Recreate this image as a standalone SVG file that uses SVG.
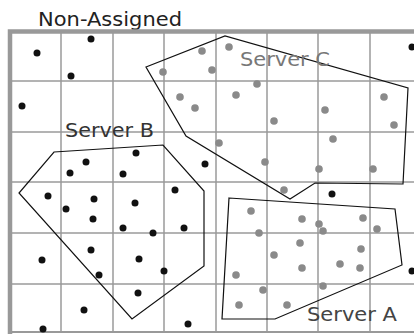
<svg xmlns="http://www.w3.org/2000/svg" width="414" height="334" viewBox="0 0 414 334">
<style>
.grid{stroke:#9a9a9a;stroke-width:1.5;fill:none}
.border{stroke:#999;fill:none}
.poly{fill:none;stroke:#111;stroke-width:1.2;stroke-linejoin:miter}
.b{fill:#111}
.g{fill:#8a8a8a}
.lbl{font-family:"DejaVu Sans","Liberation Sans",sans-serif;font-size:20px}
</style>
<rect width="414" height="334" fill="#fff"/>
<text class="lbl" x="38" y="26" font-size="19" fill="#222" textLength="144" lengthAdjust="spacingAndGlyphs">Non-Assigned</text>
<g id="grid">
<path class="grid" d="M61 32V333M113 32V333M164 32V333M216 32V333M267 32V333M318 32V333M370 32V333M10 81H414M10 132H414M10 182H414M10 233H414M10 284H414"/>
<path class="border" stroke-width="2" d="M10 332H414"/>
<path class="border" stroke-width="4.5" d="M10 334V31.5H414"/>
</g>
<g id="connectors">
<polygon id="serverC" class="poly" points="146,67 225,36 408,88 403,184 315,183 290,199 186,136"/>
<polygon id="serverB" class="poly" points="54,152 163,145 204,191 204,266 132,319 19,193"/>
<polygon id="serverA" class="poly" points="229,198 395,209 402,265 275,319 222,319"/>
</g>
<g id="nonassigned-dots">
<circle class="b" cx="37" cy="53" r="3.5"/>
<circle class="b" cx="91" cy="39" r="3.5"/>
<circle class="b" cx="71" cy="76" r="3.5"/>
<circle class="b" cx="22" cy="106" r="3.5"/>
<circle class="b" cx="205" cy="164" r="3.5"/>
<circle class="b" cx="412" cy="47" r="3.5"/>
<circle class="b" cx="332" cy="194" r="3.5"/>
<circle class="b" cx="412" cy="271" r="3.5"/>
<circle class="b" cx="42" cy="260" r="3.5"/>
<circle class="b" cx="84" cy="310" r="3.5"/>
<circle class="b" cx="43" cy="329" r="3.5"/>
<circle class="b" cx="188" cy="324" r="3.5"/>
</g>
<g id="serverB-node">
<text class="lbl" x="65" y="137" fill="#333" textLength="89" lengthAdjust="spacingAndGlyphs">Server B</text>
<circle class="b" cx="136" cy="153" r="3.5"/>
<circle class="b" cx="86" cy="162" r="3.5"/>
<circle class="b" cx="70" cy="173" r="3.5"/>
<circle class="b" cx="123" cy="174" r="3.5"/>
<circle class="b" cx="48" cy="196" r="3.5"/>
<circle class="b" cx="94" cy="199" r="3.5"/>
<circle class="b" cx="66" cy="209" r="3.5"/>
<circle class="b" cx="93" cy="219" r="3.5"/>
<circle class="b" cx="135" cy="203" r="3.5"/>
<circle class="b" cx="175" cy="190" r="3.5"/>
<circle class="b" cx="123" cy="228" r="3.5"/>
<circle class="b" cx="153" cy="233" r="3.5"/>
<circle class="b" cx="184" cy="228" r="3.5"/>
<circle class="b" cx="91" cy="250" r="3.5"/>
<circle class="b" cx="139" cy="259" r="3.5"/>
<circle class="b" cx="99" cy="275" r="3.5"/>
<circle class="b" cx="164" cy="271" r="3.5"/>
<circle class="b" cx="138" cy="293" r="3.5"/>
</g>
<g id="serverC-node">
<text class="lbl" x="240" y="66" fill="#777" textLength="90" lengthAdjust="spacingAndGlyphs">Server C</text>
<circle class="g" cx="229" cy="47" r="3.8"/>
<circle class="g" cx="202" cy="51" r="3.8"/>
<circle class="g" cx="212" cy="70" r="3.8"/>
<circle class="g" cx="163" cy="72" r="3.8"/>
<circle class="g" cx="257" cy="84" r="3.8"/>
<circle class="g" cx="236" cy="95" r="3.8"/>
<circle class="g" cx="180" cy="97" r="3.8"/>
<circle class="g" cx="195" cy="108" r="3.8"/>
<circle class="g" cx="274" cy="121" r="3.8"/>
<circle class="g" cx="325" cy="110" r="3.8"/>
<circle class="g" cx="384" cy="97" r="3.8"/>
<circle class="g" cx="394" cy="125" r="3.8"/>
<circle class="g" cx="333" cy="139" r="3.8"/>
<circle class="g" cx="219" cy="143" r="3.8"/>
<circle class="g" cx="265" cy="162" r="3.8"/>
<circle class="g" cx="319" cy="169" r="3.8"/>
<circle class="g" cx="373" cy="169" r="3.8"/>
<circle class="g" cx="284" cy="190" r="3.8"/>
</g>
<g id="serverA-node">
<text class="lbl" x="307" y="321" fill="#444" textLength="90" lengthAdjust="spacingAndGlyphs">Server A</text>
<circle class="g" cx="251" cy="211" r="3.8"/>
<circle class="g" cx="302" cy="219" r="3.8"/>
<circle class="g" cx="319" cy="224" r="3.8"/>
<circle class="g" cx="323" cy="231" r="3.8"/>
<circle class="g" cx="363" cy="218" r="3.8"/>
<circle class="g" cx="377" cy="229" r="3.8"/>
<circle class="g" cx="259" cy="233" r="3.8"/>
<circle class="g" cx="300" cy="243" r="3.8"/>
<circle class="g" cx="361" cy="249" r="3.8"/>
<circle class="g" cx="274" cy="255" r="3.8"/>
<circle class="g" cx="340" cy="264" r="3.8"/>
<circle class="g" cx="360" cy="268" r="3.8"/>
<circle class="g" cx="302" cy="268" r="3.8"/>
<circle class="g" cx="236" cy="275" r="3.8"/>
<circle class="g" cx="323" cy="286" r="3.8"/>
<circle class="g" cx="263" cy="290" r="3.8"/>
<circle class="g" cx="239" cy="305" r="3.8"/>
<circle class="g" cx="287" cy="305" r="3.8"/>
</g>
</svg>
